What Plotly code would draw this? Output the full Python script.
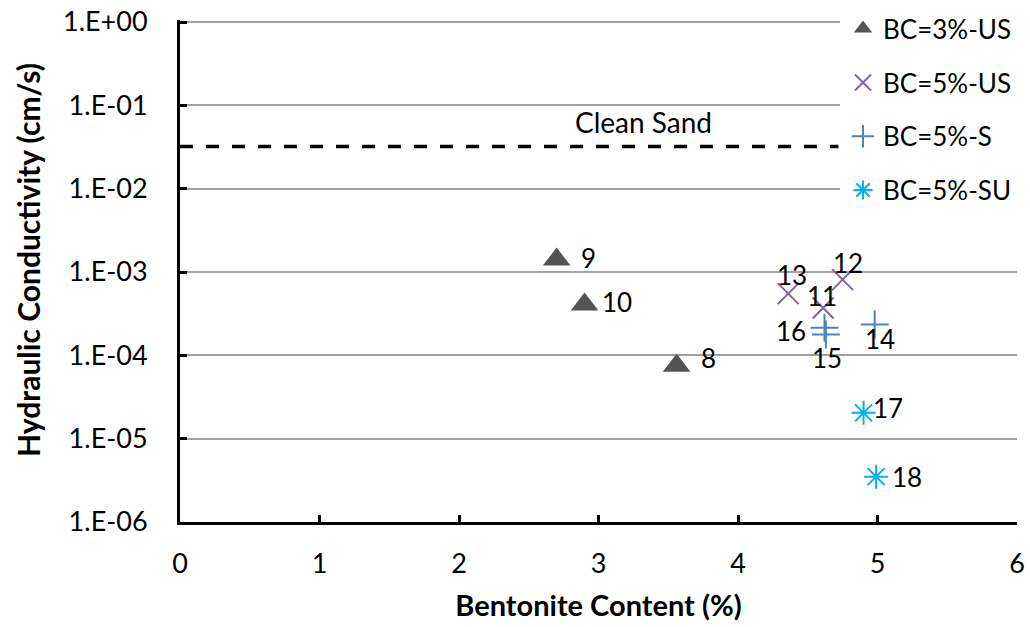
import plotly.graph_objects as go
import numpy as np

# ---- data ----
series_names = ["BC=3%-US", "BC=5%-US", "BC=5%-S", "BC=5%-SU"]
bc3_us_x = [3.56, 2.70, 2.90]
bc3_us_y = [7.5e-5, 1.41e-3, 4.07e-4]
bc3_us_lbl = ["8", "9", "10"]

bc5_us_x = [4.61, 4.75, 4.36]
bc5_us_y = [3.7e-4, 8.1e-4, 5.5e-4]
bc5_us_lbl = ["11", "12", "13"]

bc5_s_x = [4.98, 4.63, 4.62]
bc5_s_y = [2.34e-4, 1.78e-4, 2.14e-4]
bc5_s_lbl = ["14", "15", "16"]

bc5_su_x = [4.90, 4.99]
bc5_su_y = [2.04e-5, 3.5e-6]
bc5_su_lbl = ["17", "18"]

clean_sand_k = 3.2e-2
clean_sand_x = [0, 4.72]

y_tickvals = [1e0, 1e-1, 1e-2, 1e-3, 1e-4, 1e-5, 1e-6]
y_ticktext = ["1.E+00", "1.E-01", "1.E-02", "1.E-03", "1.E-04", "1.E-05", "1.E-06"]
x_tickvals = [0, 1, 2, 3, 4, 5, 6]

# label offsets in pixels (dx, dy up)
label_offsets = {
    "8": (32, 8), "9": (32, 2), "10": (32, 3),
    "11": (-1, 12), "12": (5, 17), "13": (4, 19),
    "14": (5, -14), "15": (1, -24), "16": (-33, -3),
    "17": (24, 5), "18": (31, 0),
}

FONT = "Lato"
GRID = "#A0A0A0"
fig = go.Figure()

fig.add_trace(go.Scatter(x=clean_sand_x, y=[clean_sand_k] * 2, mode="lines",
                         line=dict(color="black", width=3.5, dash="13px,13px"),
                         showlegend=False, hoverinfo="skip"))

styles = [
    dict(symbol="triangle-up", size=24, color="#545454", line=dict(width=0)),
    dict(symbol="x-thin", size=21, color="#8064A2", line=dict(width=2, color="#8064A2")),
    dict(symbol="cross-thin", size=20, color="#4F81BD", line=dict(width=2, color="#4F81BD")),
    dict(symbol="asterisk", size=20, color="#00B0F0", line=dict(width=2, color="#00B0F0")),
]
xs = [bc3_us_x, bc5_us_x, bc5_s_x, bc5_su_x]
ys = [bc3_us_y, bc5_us_y, bc5_s_y, bc5_su_y]
lbls = [bc3_us_lbl, bc5_us_lbl, bc5_s_lbl, bc5_su_lbl]

for i, (name, x, y, st) in enumerate(zip(series_names, xs, ys, styles)):
    fig.add_trace(go.Scatter(x=x, y=y, mode="markers", name=name,
                             marker=st, legendgroup=name))

annotations = []
for x, y, lb in zip(xs, ys, lbls):
    for xi, yi, li in zip(x, y, lb):
        dx, dy = label_offsets[li]
        annotations.append(dict(x=xi, y=np.log10(yi), xref="x", yref="y", text=li,
                                showarrow=False, xshift=dx, yshift=dy,
                                font=dict(family=FONT, size=26, color="black")))
annotations.append(dict(x=3.32, y=-1.2, xref="x", yref="y", text="Clean Sand",
                        showarrow=False, font=dict(family=FONT, size=28, color="black")))
# y-axis title
annotations.append(dict(x=-0.1816, y=0.502, xref="paper", yref="paper",
                        text="<b>Hydraulic Conductivity (cm/s)</b>", textangle=-90,
                        showarrow=False, xanchor="center", yanchor="middle",
                        font=dict(family=FONT, size=30, color="black")))

PAPER_H = 522.0
Y_TOP_EXTRA = 0.03                        # decades above 1.E+00 so its gridline is drawn
Y_DOMAIN_TOP = 1 - (22 - Y_TOP_EXTRA * 83.3) / PAPER_H
LEG_X0 = 0.7885

shapes = [
    # white panel behind the legend (covers gridlines)
    dict(type="rect", xref="paper", yref="paper", x0=LEG_X0, x1=1.0,
         y0=(522 - 220) / PAPER_H, y1=1.0,
         fillcolor="white", line=dict(width=0), layer="above"),
    # tick at clean sand level on y-axis
    dict(type="line", xref="paper", yref="y", x0=0, x1=0.009,
         y0=clean_sand_k, y1=clean_sand_k, line=dict(color="black", width=3)),
]

fig.update_layout(
    width=1030, height=627,
    margin=dict(l=180, r=13, t=0, b=105),
    paper_bgcolor="white", plot_bgcolor="white",
    font=dict(family=FONT, size=24, color="black"),
    annotations=annotations, shapes=shapes,
    legend=dict(x=1.0, y=0.990, xanchor="right", yanchor="top",
                bgcolor="rgba(255,255,255,0)", font=dict(family=FONT, size=26),
                traceorder="grouped", tracegroupgap=17,
                itemwidth=30),
    xaxis=dict(range=[0, 6], tickvals=x_tickvals, showgrid=False,
               showline=True, linecolor="black", linewidth=3,
               ticks="inside", ticklen=7, tickwidth=3, tickcolor="black",
               tickfont=dict(family=FONT, size=27), ticklabelstandoff=16,
               title=dict(text="<b>Bentonite Content (%)</b>",
                          font=dict(family=FONT, size=29), standoff=18),
               zeroline=False, automargin=False),
    yaxis=dict(type="log", range=[-6, Y_TOP_EXTRA], tickvals=y_tickvals, ticktext=y_ticktext,
               domain=[0, Y_DOMAIN_TOP],
               showgrid=True, gridcolor=GRID, gridwidth=1.5,
               showline=True, linecolor="black", linewidth=3,
               ticks="inside", ticklen=7, tickwidth=3, tickcolor="black",
               tickfont=dict(family=FONT, size=27), ticklabelstandoff=24,
               zeroline=False, automargin=False),
)

fig.write_html("out.html")
